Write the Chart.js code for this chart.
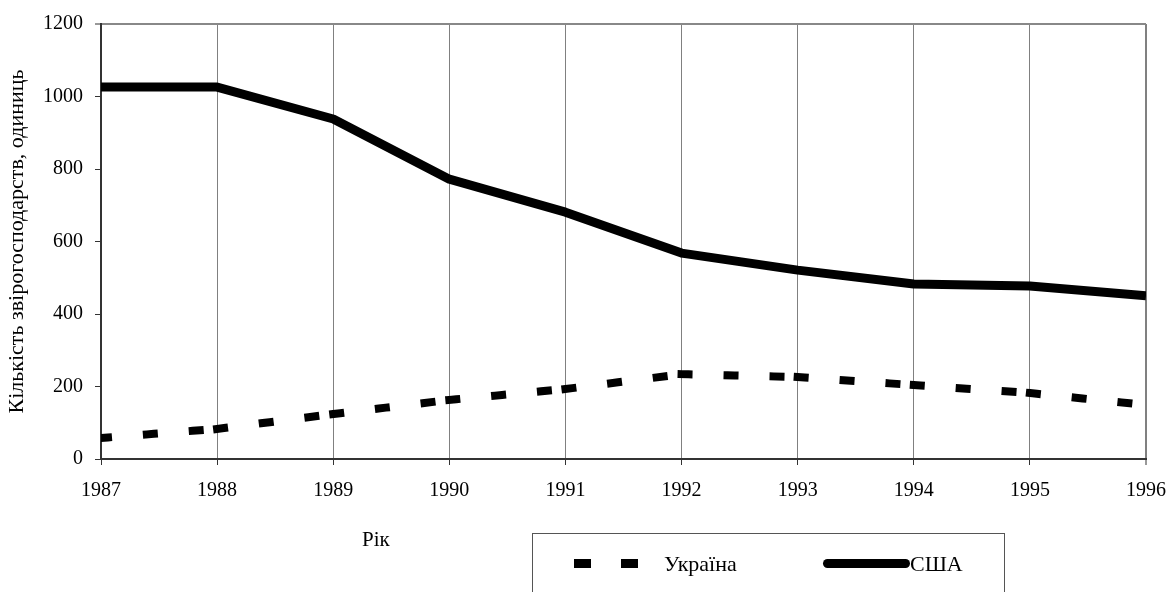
<!DOCTYPE html>
<html>
<head>
<meta charset="utf-8">
<script src="https://cdn.jsdelivr.net/npm/chart.js@4/dist/chart.umd.min.js"></script>
<style>
  html, body { margin: 0; padding: 0; background: #fff; }
  #wrap { position: relative; width: 1168px; height: 592px; overflow: hidden; font-family: "Liberation Serif", "Times New Roman", serif; }
  #c { position: absolute; left: 0; top: 0; }
  .lbl { position: absolute; font-size: 22px; color: #000; line-height: 1; white-space: nowrap; }
  #legend { position: absolute; left: 532px; top: 533px; width: 473px; height: 90px; border: 1px solid #555; box-sizing: border-box; }
  .dash { position: absolute; height: 9px; background: #000; }
</style>
</head>
<body>
<div id="wrap">
  <canvas id="c" width="1168" height="592"></canvas>
  <div class="lbl" style="left:362px; top:529px; font-size:21px;">Рік</div>
  <div id="legend">
    <div class="dash" style="left:41px; top:25px; width:17px;"></div>
    <div class="dash" style="left:88px; top:25px; width:17px;"></div>
    <div class="lbl" style="left:131px; top:19px;">Україна</div>
    <div class="dash" style="left:290px; top:25px; width:87px; border-radius:4.5px;"></div>
    <div class="lbl" style="left:377px; top:19px;">США</div>
  </div>
</div>
<script>
const years = ['1987','1988','1989','1990','1991','1992','1993','1994','1995','1996'];
const ukraine = [58, 83, 124, 163, 193, 234, 226, 204, 182, 149];
const usa = [1026, 1026, 938, 772, 681, 568, 521, 483, 477, 450];
const seriesNames = ['Україна', 'США'];
const yTitle = 'Кількість звірогосподарств, одиниць';

const FONT = '"Liberation Serif", "Times New Roman", serif';

new Chart(document.getElementById('c'), {
  type: 'line',
  data: {
    labels: years,
    datasets: [
      {
        label: seriesNames[0],
        data: ukraine,
        borderColor: '#000',
        borderWidth: 8,
        borderDash: [7, 39],
        borderCapStyle: 'square',
        borderJoinStyle: 'miter',
        pointRadius: 0,
        tension: 0,
        clip: 0,
        segment: {
          borderDashOffset: ctx => (ctx.p0DataIndex % 2 ? 0.01 : 0)
        }
      },
      {
        label: seriesNames[1],
        data: usa,
        borderColor: '#000',
        borderWidth: 9,
        borderJoinStyle: 'round',
        borderCapStyle: 'butt',
        pointRadius: 0,
        tension: 0,
        clip: 0
      }
    ]
  },
  options: {
    responsive: false,
    animation: false,
    layout: { padding: { left: 0, right: 22, top: 24, bottom: 93 } },
    plugins: { legend: { display: false }, tooltip: { enabled: false } },
    scales: {
      x: {
        offset: false,
        afterFit: s => { s.height = 40; s.paddingLeft = 0; s.paddingRight = 0; },
        border: { color: '#333', width: 2 },
        grid: {
          color: '#808080',
          lineWidth: ctx => (ctx.index === years.length - 1 ? 2 : 1),
          tickLength: 6,
          tickColor: '#333',
          tickWidth: 1
        },
        ticks: {
          color: '#000',
          font: { family: FONT, size: 20 },
          padding: 14,
          maxRotation: 0,
          autoSkip: false
        }
      },
      y: {
        min: 0,
        max: 1200,
        afterFit: s => { s.width = 101; s.paddingTop = 0; s.paddingBottom = 0; },
        border: { color: '#333', width: 2 },
        grid: {
          color: ctx => (ctx.tick && ctx.tick.value === 1200 ? '#888' : 'rgba(0,0,0,0)'),
          lineWidth: ctx => (ctx.tick && ctx.tick.value === 1200 ? 2 : 1),
          tickLength: 6,
          tickColor: '#333',
          tickWidth: 1
        },
        ticks: {
          stepSize: 200,
          color: '#000',
          font: { family: FONT, size: 20 },
          padding: 12,
          callback: v => String(v)
        },
        title: {
          display: true,
          text: yTitle,
          color: '#000',
          font: { family: FONT, size: 22 },
          padding: { top: 4, bottom: 0 }
        }
      }
    }
  }
});
</script>
</body>
</html>
